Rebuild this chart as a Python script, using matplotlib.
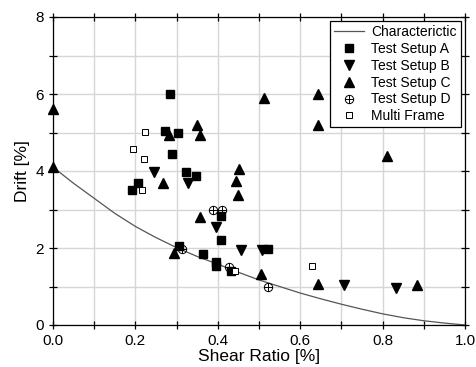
import matplotlib
matplotlib.use("Agg")
import matplotlib.pyplot as plt
from matplotlib.path import Path

plt.rcParams['font.family'] = ['Liberation Sans', 'DejaVu Sans']

# Characteristic curve
char_x = [0.0, 0.05, 0.1, 0.15, 0.2, 0.25, 0.3, 0.35, 0.4, 0.45, 0.5, 0.55, 0.6, 0.65, 0.7, 0.75, 0.8, 0.85, 0.9, 0.95, 1.0]
char_y = [4.10, 3.68, 3.29, 2.90, 2.56, 2.27, 2.01, 1.78, 1.58, 1.37, 1.17, 1.00, 0.83, 0.68, 0.54, 0.41, 0.29, 0.19, 0.11, 0.05, 0.0]

a_x = [0.284, 0.272, 0.304, 0.290, 0.323, 0.346, 0.191, 0.207, 0.407, 0.408, 0.523, 0.307, 0.365, 0.395, 0.395, 0.431]
a_y = [6.00, 5.04, 5.00, 4.44, 3.98, 3.87, 3.50, 3.68, 2.84, 2.20, 1.98, 2.04, 1.84, 1.64, 1.52, 1.41]

b_x = [0.246, 0.328, 0.395, 0.456, 0.508, 0.707, 0.832]
b_y = [3.97, 3.70, 2.55, 1.96, 1.96, 1.05, 0.96]

c_x = [0.0, 0.0, 0.282, 0.349, 0.358, 0.511, 0.642, 0.642, 0.811, 0.451, 0.268, 0.443, 0.448, 0.357, 0.294, 0.506, 0.642, 0.884]
c_y = [5.60, 4.10, 4.94, 5.20, 4.94, 5.90, 6.00, 5.20, 4.40, 4.05, 3.70, 3.73, 3.38, 2.80, 1.87, 1.33, 1.07, 1.03]

d_x = [0.388, 0.409, 0.314, 0.427, 0.523]
d_y = [2.98, 2.98, 1.97, 1.51, 0.99]

m_x = [0.223, 0.193, 0.222, 0.215, 0.442, 0.629]
m_y = [5.02, 4.58, 4.32, 3.50, 1.40, 1.52]

labels = ["Characterictic", "Test Setup A", "Test Setup B", "Test Setup C", "Test Setup D", "Multi Frame"]

oplus = Path.make_compound_path(
    Path.unit_circle(),
    Path([(-1, 0), (1, 0)], [Path.MOVETO, Path.LINETO]),
    Path([(0, -1), (0, 1)], [Path.MOVETO, Path.LINETO]),
)

fig = plt.figure(figsize=(4.76, 3.67), dpi=100)
ax = fig.add_axes([53/476, 1-325/367, 412/476, 308/367])

ax.set_xlim(0, 1.0)
ax.set_ylim(0, 8)
ax.set_xticks([0.0, 0.2, 0.4, 0.6, 0.8, 1.0])
ax.set_xticks([0.1, 0.3, 0.5, 0.7, 0.9], minor=True)
ax.set_yticks([0, 2, 4, 6, 8])
ax.set_yticks([1, 3, 5, 7], minor=True)
ax.grid(True, which='both', color='#d6d6d6', linewidth=1.0)
ax.set_axisbelow(True)
ax.tick_params(which='both', direction='inout', top=True, right=True, length=6, width=0.9, labelsize=11)
for s in ax.spines.values():
    s.set_linewidth(0.9)

ax.plot(char_x, char_y, color='#555555', linewidth=0.9, label=labels[0], zorder=2)
kw = dict(linestyle='none', color='black', clip_on=False, zorder=3)
ax.plot(a_x, a_y, marker='s', markersize=5.5, label=labels[1], **kw)
ax.plot(b_x, b_y, marker='v', markersize=7.5, label=labels[2], **kw)
ax.plot(c_x, c_y, marker='^', markersize=7.5, label=labels[3], **kw)
ax.plot(d_x, d_y, marker=oplus, markersize=6, markerfacecolor='none', markeredgewidth=0.7, label=labels[4], **kw)
ax.plot(m_x, m_y, marker='s', markersize=5, markerfacecolor='white', markeredgewidth=0.7, label=labels[5], **kw)

ax.set_xlabel("Shear Ratio [%]", fontsize=12.5, labelpad=1)
ax.set_ylabel("Drift [%]", fontsize=12.5, labelpad=4)

leg = ax.legend(loc='upper right', fontsize=10, frameon=True, fancybox=False,
                edgecolor='black', framealpha=1, labelspacing=0.2, handlelength=2.2,
                handletextpad=0.5, borderpad=0.3, borderaxespad=0.3)
leg.get_frame().set_linewidth(0.9)

fig.savefig("out.png", dpi=100)
